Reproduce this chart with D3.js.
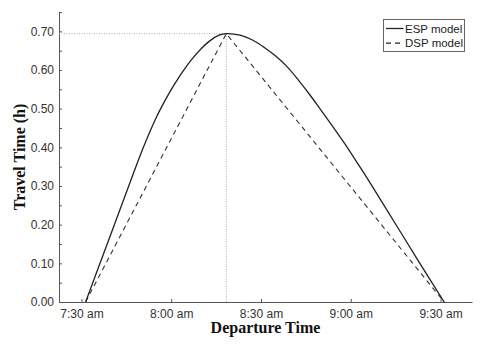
<!DOCTYPE html>
<html>
<head>
<meta charset="utf-8">
<script src="https://cdn.jsdelivr.net/npm/d3@7"></script>
<style>
    body { margin: 0; background: #fff; }
    svg { display: block; }
    .tick text { font-family: "Liberation Sans", Arial, sans-serif; font-size: 12px; fill: #333; }
    .axis path, .axis line { stroke: #555; }
    .title { font-family: "Liberation Serif", "Times New Roman", serif; font-weight: bold; font-size: 16px; fill: #111; }
    .legend text { font-family: "Liberation Sans", Arial, sans-serif; font-size: 11.5px; fill: #222; }
</style>
</head>
<body>
<div id="chart"></div>
<script>
// Departure times are minutes after 7:30 am, travel times in hours
const espMinutes = [1.4, 6.2, 11.0, 15.8, 20.6, 24.8, 28.0, 31.0, 34.0, 37.0, 40.0, 43.0, 46.0, 48.4,
    53.0, 57.3, 61.0, 65.2, 69.0, 72.9, 76.3, 79.6, 83.5, 87.4, 92.0, 96.3, 100.8, 106.3, 112.5, 121.2];
const espValues = [0, 0.100, 0.200, 0.300, 0.398, 0.474, 0.522, 0.562, 0.598, 0.629, 0.655, 0.676, 0.690, 0.694,
    0.690, 0.677, 0.659, 0.634, 0.606, 0.570, 0.536, 0.501, 0.459, 0.416, 0.362, 0.310, 0.254, 0.185, 0.107, 0];

const dspMinutes = [1.4, 48.4, 121.2];
const dspValues = [0, 0.694, 0];

const xTickLabels = ["7:30", "8:00", "8:30", "9:00", "9:30"];
const yTickValues = [0, 0.1, 0.2, 0.3, 0.4, 0.5, 0.6, 0.7];
const yMinorTicks = [0.05, 0.15, 0.25, 0.35, 0.45, 0.55, 0.65, 0.75];
const seriesNames = ["ESP model", "DSP model"];

const width = 490;
const height = 346;
const margin = { top: 12, right: 18, bottom: 44, left: 59 };

const base = new Date(2000, 0, 1, 7, 30);
const toTime = m => new Date(base.getTime() + m * 60000);
const parseClock = s => {
    const [h, m] = s.split(":").map(Number);
    return new Date(2000, 0, 1, h, m);
};
const fmt = d3.timeFormat("%-I:%M %p");

const svg = d3.select("#chart")
    .append("svg")
    .attr("width", width)
    .attr("height", height);

const x = d3.scaleTime()
    .domain([toTime(-7.5), toTime(130.5)])
    .range([margin.left, width - margin.right]);

const y = d3.scaleLinear()
    .domain([0, 0.75])
    .range([height - margin.bottom, margin.top]);

// Axes
svg.append("g")
    .attr("class", "axis")
    .attr("transform", `translate(0,${height - margin.bottom})`)
    .call(d3.axisBottom(x)
        .tickValues(xTickLabels.map(parseClock))
        .tickFormat(d => fmt(d).toLowerCase())
        .tickSizeInner(-3)
        .tickSizeOuter(0)
        .tickPadding(7));

svg.append("g")
    .attr("class", "axis")
    .attr("transform", `translate(${margin.left},0)`)
    .call(d3.axisLeft(y)
        .tickValues(yTickValues)
        .tickFormat(d3.format(".2f"))
        .tickSizeInner(-3)
        .tickSizeOuter(0)
        .tickPadding(5));

svg.append("g")
    .attr("class", "axis")
    .attr("transform", `translate(${margin.left},0)`)
    .call(d3.axisLeft(y)
        .tickValues(yMinorTicks)
        .tickFormat("")
        .tickSizeInner(-3)
        .tickSizeOuter(0))
    .select(".domain").remove();

// Peak reference lines
const peakIdx = d3.maxIndex(espValues);
const peakX = x(toTime(espMinutes[peakIdx]));
const peakY = y(espValues[peakIdx]);

svg.append("line")
    .attr("x1", margin.left).attr("x2", peakX)
    .attr("y1", peakY).attr("y2", peakY)
    .attr("stroke", "#aaa").attr("stroke-width", 1)
    .attr("stroke-dasharray", "1,1.5");

svg.append("line")
    .attr("x1", peakX).attr("x2", peakX)
    .attr("y1", peakY).attr("y2", y(0))
    .attr("stroke", "#aaa").attr("stroke-width", 1)
    .attr("stroke-dasharray", "1,1.5");

// Series
const espData = espMinutes.map((m, i) => ({ t: toTime(m), v: espValues[i] }));
const dspData = dspMinutes.map((m, i) => ({ t: toTime(m), v: dspValues[i] }));

const espLine = d3.line()
    .x(d => x(d.t))
    .y(d => y(d.v))
    .curve(d3.curveCatmullRom.alpha(0.5));

const dspLine = d3.line()
    .x(d => x(d.t))
    .y(d => y(d.v));

svg.append("path")
    .datum(dspData)
    .attr("d", dspLine)
    .attr("fill", "none")
    .attr("stroke", "#333")
    .attr("stroke-width", 1.1)
    .attr("stroke-dasharray", "5,4");

svg.append("path")
    .datum(espData)
    .attr("d", espLine)
    .attr("fill", "none")
    .attr("stroke", "#222")
    .attr("stroke-width", 1.3);

// Axis titles
svg.append("text")
    .attr("class", "title")
    .attr("x", (margin.left + width - margin.right) / 2)
    .attr("y", 333)
    .attr("text-anchor", "middle")
    .text("Departure Time");

svg.append("text")
    .attr("class", "title")
    .attr("transform", `translate(25,${(margin.top + height - margin.bottom) / 2}) rotate(-90)`)
    .attr("text-anchor", "middle")
    .text("Travel Time (h)");

// Legend
const legend = svg.append("g")
    .attr("class", "legend")
    .attr("transform", "translate(383.5,19.5)");

legend.append("rect")
    .attr("width", 81)
    .attr("height", 32)
    .attr("fill", "#fff")
    .attr("stroke", "#666")
    .attr("stroke-width", 1);

const rows = legend.selectAll("g.row")
    .data(seriesNames)
    .enter()
    .append("g")
    .attr("class", "row")
    .attr("transform", (_, i) => `translate(0,${9 + i * 14.6})`);

rows.append("line")
    .attr("x1", 2.5).attr("x2", 20)
    .attr("stroke", "#222")
    .attr("stroke-width", (_, i) => i === 0 ? 1.3 : 1.1)
    .attr("stroke-dasharray", (_, i) => i === 0 ? null : "5,4");

rows.append("text")
    .attr("x", 21.5)
    .attr("dy", "0.35em")
    .text(d => d);
</script>
</body>
</html>
